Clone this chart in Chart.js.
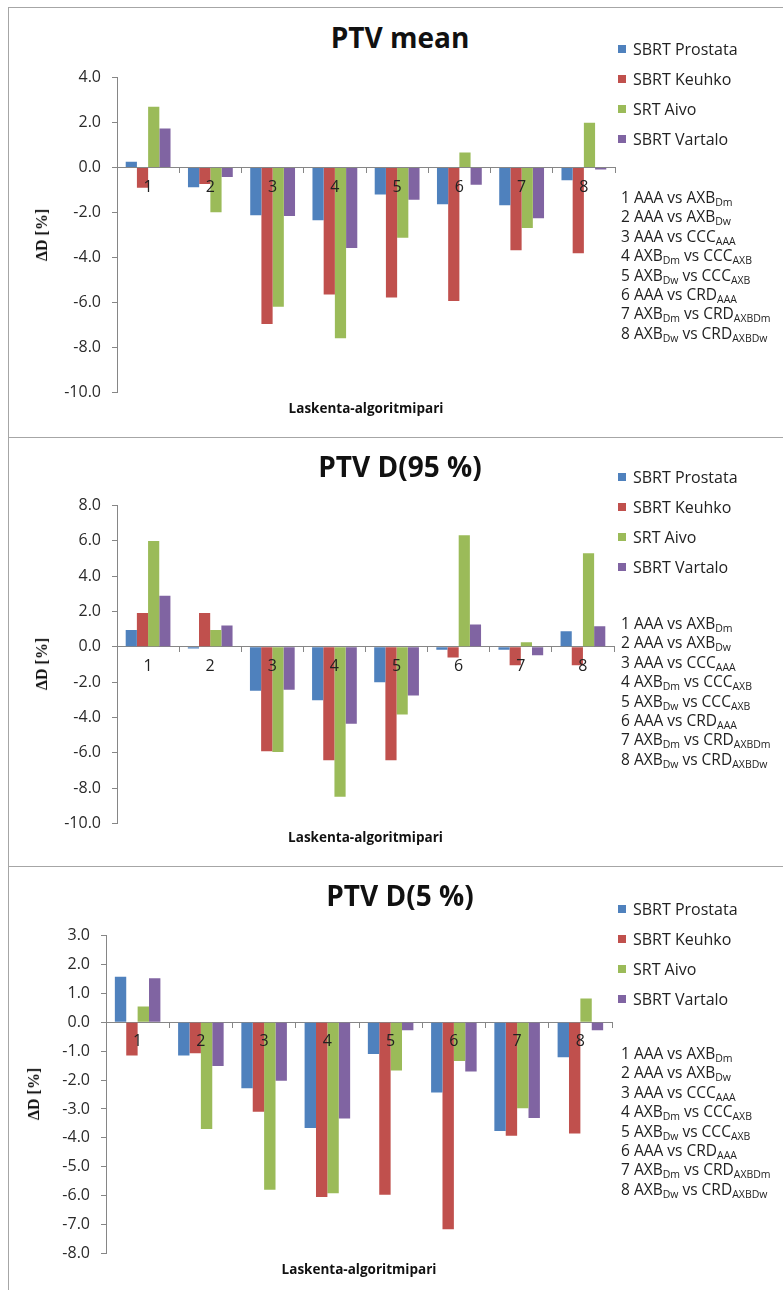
<!DOCTYPE html>
<html>
<head>
<meta charset="utf-8">
<script src="https://cdn.jsdelivr.net/npm/chart.js@4"></script>
<style>
  html, body { margin: 0; padding: 0; background: #fff; }
  body { width: 783px; height: 1290px; position: relative; overflow: hidden; font-family: "Open Sans", sans-serif; color: #222; }
  .hline { position: absolute; height: 1px; background: #a6a6a6; }
  .vline { position: absolute; width: 1px; background: #a6a6a6; }
  canvas { position: absolute; left: 0; }
  .title { position: absolute; font-weight: 700; font-size: 28px; line-height: 28px; white-space: nowrap; transform: translateX(-50%); color: #111; }
  .ytitle { position: absolute; font-family: "Liberation Serif", serif; font-weight: 700; font-size: 16px; line-height: 16px; white-space: nowrap; transform: translate(-50%, -50%) rotate(-90deg); color: #111; }
  .xtitle { position: absolute; font-weight: 700; font-size: 13.5px; line-height: 16px; white-space: nowrap; transform: translateX(-50%); color: #111; }
  .legend { position: absolute; font-size: 16px; line-height: 30px; color: #222; }
  .legend .item { display: flex; align-items: center; height: 30px; white-space: nowrap; }
  .legend .sw { width: 8px; height: 8px; margin-right: 7px; }
  .pairs { position: absolute; font-size: 15.5px; line-height: 19.4px; color: #222; white-space: nowrap; }
  .pairs sub { font-size: 10.5px; vertical-align: -3px; line-height: 0; }
</style>
</head>
<body>
<script>
// Algorithm pair numbers on the category axis
const categories = ['1', '2', '3', '4', '5', '6', '7', '8'];
const seriesNames = ['SBRT Prostata', 'SBRT Keuhko', 'SRT Aivo', 'SBRT Vartalo'];
const seriesColors = ['#4F81BD', '#C0504D', '#9BBB59', '#8064A2'];

// PTV mean, ΔD [%]
const meanProstata = [0.26, -0.88, -2.12, -2.34, -1.20, -1.63, -1.68, -0.57];
const meanKeuhko   = [-0.90, -0.73, -6.96, -5.65, -5.78, -5.93, -3.68, -3.81];
const meanAivo     = [2.70, -1.99, -6.19, -7.59, -3.12, 0.67, -2.69, 1.99];
const meanVartalo  = [1.74, -0.42, -2.16, -3.58, -1.43, -0.77, -2.26, -0.09];

// PTV D(95 %), ΔD [%]
const d95Prostata = [0.96, -0.09, -2.49, -3.02, -2.00, -0.17, -0.17, 0.89];
const d95Keuhko   = [1.91, 1.91, -5.92, -6.42, -6.42, -0.60, -1.04, -1.04];
const d95Aivo     = [6.00, 0.96, -5.96, -8.49, -3.83, 6.32, 0.26, 5.30];
const d95Vartalo  = [2.89, 1.21, -2.43, -4.36, -2.75, 1.26, -0.47, 1.17];

// PTV D(5 %), ΔD [%]
const d5Prostata = [1.58, -1.15, -2.28, -3.66, -1.10, -2.43, -3.76, -1.21];
const d5Keuhko   = [-1.15, -1.07, -3.10, -6.05, -5.97, -7.16, -3.93, -3.85];
const d5Aivo     = [0.55, -3.69, -5.80, -5.92, -1.67, -1.34, -2.98, 0.82];
const d5Vartalo  = [1.52, -1.51, -2.02, -3.33, -0.28, -1.70, -3.31, -0.28];

// Value-axis ranges: [min, max, step]
const meanRange = [-10, 4, 2];
const d95Range  = [-10, 8, 2];
const d5Range   = [-8, 3, 1];

// Key for the algorithm pairs (HTML with subscripts)
const pairLabels = [
  '1 AAA vs AXB<sub>Dm</sub>',
  '2 AAA vs AXB<sub>Dw</sub>',
  '3 AAA vs CCC<sub>AAA</sub>',
  '4 AXB<sub>Dm</sub> vs CCC<sub>AXB</sub>',
  '5 AXB<sub>Dw</sub> vs CCC<sub>AXB</sub>',
  '6 AAA vs CRD<sub>AAA</sub>',
  '7 AXB<sub>Dm</sub> vs CRD<sub>AXBDm</sub>',
  '8 AXB<sub>Dw</sub> vs CRD<sub>AXBDw</sub>'
];

const axisTitleX = 'Laskenta-algoritmipari';
const axisTitleY = 'ΔD [%]';

// Panel layout: plot-area box and text anchors
const panels = [
  { title: 'PTV mean', series: [meanProstata, meanKeuhko, meanAivo, meanVartalo], range: meanRange,
    plot: { left: 117, right: 615, top: 77, bottom: 393 }, titleY: 23, legendY: 34, pairsY: 188, yTitle: [42, 235], xTitleY: 400 },
  { title: 'PTV D(95 %)', series: [d95Prostata, d95Keuhko, d95Aivo, d95Vartalo], range: d95Range,
    plot: { left: 117, right: 614, top: 505, bottom: 824 }, titleY: 452, legendY: 462, pairsY: 614, yTitle: [42, 664], xTitleY: 829 },
  { title: 'PTV D(5 %)', series: [d5Prostata, d5Keuhko, d5Aivo, d5Vartalo], range: d5Range,
    plot: { left: 106, right: 612, top: 935, bottom: 1254 }, titleY: 881, legendY: 894, pairsY: 1044, yTitle: [34, 1094], xTitleY: 1261 }
];

function addEl(tag, cls, css, html) {
  const el = document.createElement(tag);
  if (cls) el.className = cls;
  Object.assign(el.style, css);
  if (html !== undefined) el.innerHTML = html;
  document.body.appendChild(el);
  return el;
}

// Frame and panel separators
addEl('div', 'hline', { left: '8px', top: '7px', width: '775px' });
addEl('div', 'vline', { left: '8px', top: '7px', height: '1283px' });
addEl('div', 'hline', { left: '8px', top: '437px', width: '775px' });
addEl('div', 'hline', { left: '8px', top: '866px', width: '775px' });

const PAD = 20;
const axisGray = '#868686';

panels.forEach((p) => {
  const b = p.plot;
  const canvas = document.createElement('canvas');
  canvas.width = b.right + 10;
  canvas.height = b.bottom - b.top + 2 * PAD;
  canvas.style.top = (b.top - PAD) + 'px';
  document.body.appendChild(canvas);

  new Chart(canvas, {
    type: 'bar',
    data: {
      labels: categories,
      datasets: p.series.map((vals, i) => ({
        label: seriesNames[i],
        data: vals,
        backgroundColor: seriesColors[i],
        borderWidth: 0,
        categoryPercentage: 0.72,
        barPercentage: 1.0
      }))
    },
    options: {
      responsive: false,
      animation: false,
      devicePixelRatio: 1,
      layout: { padding: { top: PAD, bottom: PAD, left: 0, right: 10 } },
      plugins: { legend: { display: false }, tooltip: { enabled: false }, title: { display: false } },
      scales: {
        x: {
          position: { y: 0 },
          grid: { offset: true, drawOnChartArea: false, drawTicks: true, tickLength: 5, color: axisGray },
          border: { color: axisGray, width: 1 },
          ticks: { z: 1, font: { family: 'Open Sans', size: 16 }, color: '#222', padding: 5, maxRotation: 0 }
        },
        y: {
          min: p.range[0],
          max: p.range[1],
          grid: { drawOnChartArea: false, drawTicks: true, tickLength: 5, color: axisGray },
          border: { color: axisGray, width: 1 },
          ticks: {
            stepSize: p.range[2],
            font: { family: 'Open Sans', size: 16 },
            color: '#2a2a2a',
            padding: 11,
            callback: v => Number(v).toFixed(1)
          },
          afterFit: s => { s.width = b.left; }
        }
      }
    }
  });

  // Chart title
  addEl('div', 'title', { left: '400px', top: p.titleY + 'px' }, p.title);
  // Value axis title
  addEl('div', 'ytitle', { left: p.yTitle[0] + 'px', top: p.yTitle[1] + 'px' }, axisTitleY);
  // Category axis title
  addEl('div', 'xtitle', { left: ((b.left + b.right) / 2) + 'px', top: p.xTitleY + 'px' }, axisTitleX);

  // Series legend
  const lg = addEl('div', 'legend', { left: '618px', top: p.legendY + 'px' });
  seriesNames.forEach((n, i) => {
    const it = document.createElement('div');
    it.className = 'item';
    it.innerHTML = '<span class="sw" style="background:' + seriesColors[i] + '"></span><span>' + n + '</span>';
    lg.appendChild(it);
  });

  // Algorithm pair key
  addEl('div', 'pairs', { left: '621px', top: p.pairsY + 'px' }, pairLabels.join('<br>'));
});
</script>
</body>
</html>
